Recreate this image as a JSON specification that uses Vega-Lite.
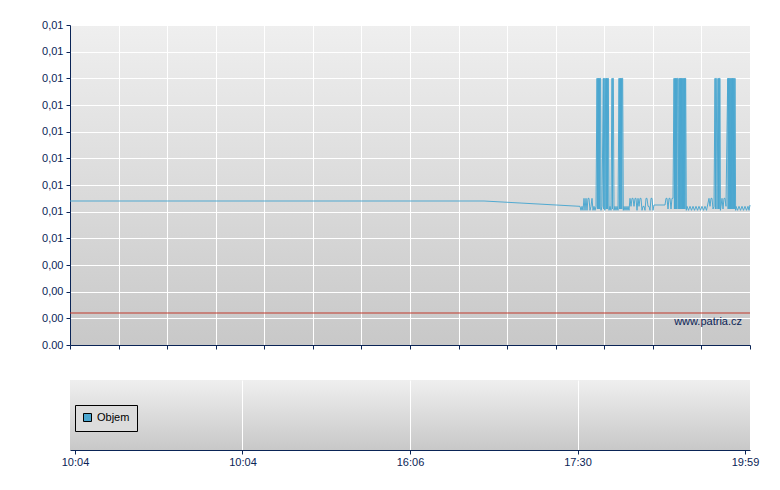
{
  "$schema": "https://vega.github.io/schema/vega-lite/v6.json",
  "padding": {"left": 41, "top": 19, "right": 5, "bottom": 5},
  "background": "white",
  "spacing": 30,
  "config": {
    "font": "Liberation Sans",
    "view": {"stroke": null, "fill": {"gradient": "linear", "x1": 0, "y1": 0, "x2": 0, "y2": 1, "stops": [{"offset": 0, "color": "#efefef"}, {"offset": 1, "color": "#c8c8c8"}]}},
    "axis": {"domainColor": "#0a2456", "tickColor": "#0a2456", "labelColor": "#0a2456", "labelFont": "Liberation Sans", "labelFontSize": 11, "gridColor": "#ffffff", "gridOpacity": 1, "gridWidth": 1, "tickSize": 4, "domainWidth": 1, "title": null, "labelOverlap": false, "labelFlush": false}
  },
  "datasets": {
    "cena": [
      {"p": 0, "v": 5.4}, {"p": 414, "v": 5.4}, {"p": 510, "v": 5.2},
      {"p": 511, "v": 5.05}, {"p": 512, "v": 5.2}, {"p": 513, "v": 5.05},
      {"p": 514, "v": 5.5}, {"p": 515, "v": 5.05}, {"p": 516, "v": 5.5}, {"p": 517, "v": 5.05}, {"p": 518, "v": 5.5}, {"p": 519, "v": 5.5}, {"p": 520, "v": 5.05}, {"p": 521, "v": 5.2}, {"p": 522, "v": 5.5}, {"p": 523, "v": 5.05}, {"p": 524, "v": 5.2}, {"p": 525, "v": 5.05}, {"p": 526, "v": 5.2},
      {"p": 527, "v": 10}, {"p": 527.4, "v": 5.1}, {"p": 527.8, "v": 10}, {"p": 528.2, "v": 5.1}, {"p": 528.6, "v": 10}, {"p": 529, "v": 5.1}, {"p": 529.4, "v": 10}, {"p": 529.8, "v": 5.1}, {"p": 530.2, "v": 10}, {"p": 530.7, "v": 10}, {"p": 531, "v": 5.05}, {"p": 532, "v": 5.2},
      {"p": 533.3, "v": 10}, {"p": 533.7, "v": 5.1}, {"p": 534, "v": 10}, {"p": 534.3, "v": 10}, {"p": 534.8, "v": 5.05},
      {"p": 535.7, "v": 10}, {"p": 536.1, "v": 5.1}, {"p": 536.5, "v": 10}, {"p": 536.9, "v": 5.1}, {"p": 537.3, "v": 10}, {"p": 537.7, "v": 5.1}, {"p": 538, "v": 10}, {"p": 538.3, "v": 10}, {"p": 539, "v": 5.05}, {"p": 540, "v": 5.2}, {"p": 541, "v": 5.05},
      {"p": 542, "v": 10}, {"p": 542.4, "v": 5.1}, {"p": 542.8, "v": 10}, {"p": 543.3, "v": 10}, {"p": 544, "v": 5.05}, {"p": 545, "v": 5.2}, {"p": 546, "v": 5.05}, {"p": 547, "v": 5.2}, {"p": 548, "v": 5.05},
      {"p": 549, "v": 10}, {"p": 549.4, "v": 5.1}, {"p": 549.8, "v": 10}, {"p": 550.2, "v": 5.1}, {"p": 550.6, "v": 10}, {"p": 551, "v": 5.1}, {"p": 551.4, "v": 10}, {"p": 551.8, "v": 5.1}, {"p": 552.2, "v": 10}, {"p": 552.7, "v": 10}, {"p": 553.3, "v": 5.05}, {"p": 554, "v": 5.2}, {"p": 555, "v": 5.05}, {"p": 556, "v": 5.2}, {"p": 557, "v": 5.05}, {"p": 558, "v": 5.2}, {"p": 559, "v": 5.05},
      {"p": 560, "v": 5.5}, {"p": 561, "v": 5.2}, {"p": 562, "v": 5.5}, {"p": 563, "v": 5.5}, {"p": 564, "v": 5.2}, {"p": 565, "v": 5.5}, {"p": 566, "v": 5.5}, {"p": 567, "v": 5.05}, {"p": 568, "v": 5.5}, {"p": 569, "v": 5.2}, {"p": 570, "v": 5.5}, {"p": 571, "v": 5.5}, {"p": 572, "v": 5.05}, {"p": 573, "v": 5.2}, {"p": 574, "v": 5.2}, {"p": 575, "v": 5.05}, {"p": 576, "v": 5.5}, {"p": 577, "v": 5.5}, {"p": 578, "v": 5.2}, {"p": 579, "v": 5.2}, {"p": 580, "v": 5.05}, {"p": 581, "v": 5.5}, {"p": 582, "v": 5.5}, {"p": 583, "v": 5.05}, {"p": 584, "v": 5.25},
      {"p": 595, "v": 5.25},
      {"p": 596, "v": 5.5}, {"p": 597, "v": 5.5}, {"p": 598, "v": 5.1}, {"p": 599, "v": 5.5}, {"p": 600, "v": 5.5}, {"p": 601, "v": 5.1}, {"p": 602, "v": 5.5}, {"p": 603, "v": 5.5},
      {"p": 604, "v": 10}, {"p": 604.4, "v": 5.1}, {"p": 604.8, "v": 10}, {"p": 605.2, "v": 5.1}, {"p": 605.6, "v": 10}, {"p": 606, "v": 5.1}, {"p": 606.4, "v": 10}, {"p": 606.8, "v": 5.1}, {"p": 607.2, "v": 10}, {"p": 607.7, "v": 10}, {"p": 608.3, "v": 5.1},
      {"p": 609, "v": 10}, {"p": 609.4, "v": 5.1}, {"p": 609.8, "v": 10}, {"p": 610.2, "v": 5.1}, {"p": 610.6, "v": 10}, {"p": 611, "v": 5.1}, {"p": 611.4, "v": 10}, {"p": 611.8, "v": 5.1}, {"p": 612.2, "v": 10}, {"p": 612.6, "v": 5.1}, {"p": 613, "v": 10}, {"p": 613.4, "v": 5.1}, {"p": 613.8, "v": 10}, {"p": 614.2, "v": 5.1}, {"p": 614.6, "v": 10}, {"p": 615, "v": 5.1}, {"p": 615.4, "v": 10}, {"p": 615.7, "v": 10}, {"p": 616.3, "v": 5.05},
      {"p": 617, "v": 5.2}, {"p": 618.5, "v": 5.05}, {"p": 620, "v": 5.2}, {"p": 621.5, "v": 5.05}, {"p": 623, "v": 5.2}, {"p": 624.5, "v": 5.05}, {"p": 626, "v": 5.2}, {"p": 627.5, "v": 5.05}, {"p": 629, "v": 5.2}, {"p": 630.5, "v": 5.05}, {"p": 632, "v": 5.2}, {"p": 633.5, "v": 5.05}, {"p": 635, "v": 5.2}, {"p": 636.5, "v": 5.05},
      {"p": 639, "v": 5.5}, {"p": 640, "v": 5.2}, {"p": 641, "v": 5.5}, {"p": 642, "v": 5.5}, {"p": 643, "v": 5.1}, {"p": 644, "v": 5.2},
      {"p": 645, "v": 10}, {"p": 645.4, "v": 5.1}, {"p": 645.8, "v": 10}, {"p": 646.3, "v": 10}, {"p": 647, "v": 5.1},
      {"p": 648, "v": 10}, {"p": 648.4, "v": 5.1}, {"p": 648.8, "v": 10}, {"p": 649.2, "v": 5.1}, {"p": 649.6, "v": 10}, {"p": 650, "v": 10}, {"p": 650.4, "v": 5.05},
      {"p": 651, "v": 5.2}, {"p": 652, "v": 5.5}, {"p": 653, "v": 5.1}, {"p": 654, "v": 5.5}, {"p": 655, "v": 5.5}, {"p": 656, "v": 5.2},
      {"p": 657.7, "v": 10}, {"p": 658.1, "v": 5.1}, {"p": 658.5, "v": 10}, {"p": 658.9, "v": 5.1}, {"p": 659.3, "v": 10}, {"p": 659.7, "v": 5.1}, {"p": 660.1, "v": 10}, {"p": 660.5, "v": 5.1}, {"p": 660.9, "v": 10}, {"p": 661.3, "v": 5.1}, {"p": 661.7, "v": 10}, {"p": 662.1, "v": 5.1}, {"p": 662.5, "v": 10}, {"p": 662.9, "v": 5.1}, {"p": 663.3, "v": 10}, {"p": 663.7, "v": 5.1}, {"p": 664.1, "v": 10}, {"p": 664.5, "v": 5.1}, {"p": 665, "v": 10}, {"p": 665.6, "v": 5.05},
      {"p": 666, "v": 5.2}, {"p": 667.5, "v": 5.05}, {"p": 669, "v": 5.2}, {"p": 670.5, "v": 5.05}, {"p": 672, "v": 5.2}, {"p": 673.5, "v": 5.05}, {"p": 675, "v": 5.2}, {"p": 676.5, "v": 5.05}, {"p": 678, "v": 5.2}, {"p": 679, "v": 5.05}, {"p": 680, "v": 5.25}
    ],
    "ref": [{"v": 1.2}],
    "mark": [{"p": 672, "v": 0.85, "t": "www.patria.cz"}],
    "objem": [{"p": 0, "objem": 0}, {"p": 170, "objem": 0}, {"p": 340, "objem": 0}, {"p": 510, "objem": 0}, {"p": 680, "objem": 0}]
  },
  "vconcat": [
    {
      "width": 680,
      "height": 320,
      "encoding": {
        "x": {"field": "p", "type": "quantitative", "scale": {"domain": [0, 680], "nice": false, "zero": false},
              "axis": {"labels": false, "grid": true, "values": [0, 48.571, 97.143, 145.714, 194.286, 242.857, 291.429, 340, 388.571, 437.143, 485.714, 534.286, 582.857, 631.429, 680]}},
        "y": {"field": "v", "type": "quantitative", "scale": {"domain": [0, 12], "nice": false},
              "axis": {"grid": true, "values": [0, 1, 2, 3, 4, 5, 6, 7, 8, 9, 10, 11, 12], "labelPadding": 3,
                       "labelExpr": "datum.value > 3.5 ? '0,01' : (datum.value < 0.5 ? '0.00' : '0,00')"}}
      },
      "layer": [
        {"data": {"name": "cena"}, "mark": {"type": "line", "color": "#4aa6d0", "strokeWidth": 1, "opacity": 0.95}},
        {"data": {"name": "ref"}, "mark": {"type": "rule", "color": "#c0392b", "strokeWidth": 1}, "encoding": {"x": null}},
        {"data": {"name": "mark"}, "mark": {"type": "text", "align": "right", "baseline": "middle", "font": "Liberation Sans", "fontSize": 11, "color": "#0a2456"},
         "encoding": {"text": {"field": "t"}}}
      ]
    },
    {
      "width": 680,
      "height": 70,
      "data": {"name": "objem"},
      "mark": {"type": "bar", "size": 2},
      "encoding": {
        "x": {"field": "p", "type": "quantitative", "scale": {"domain": [0, 680], "nice": false, "zero": false},
              "axis": {"grid": true, "values": [0, 170, 340, 510, 680], "labelPadding": 2, "labelFlush": false, "labelAlign": "center",
                       "gridOpacity": {"condition": {"test": "datum.value == 0 || datum.value == 680", "value": 0}, "value": 1},
                       "labelExpr": "datum.value == 0 ? '10:04' : datum.value == 170 ? '10:04' : datum.value == 340 ? '16:06' : datum.value == 510 ? '17:30' : '19:59'"}},
        "y": {"field": "objem", "type": "quantitative", "scale": {"domain": [0, 1]}, "axis": null},
        "color": {"datum": "Objem", "type": "nominal", "scale": {"range": ["#4aa6d0"]},
                  "legend": {"title": null, "orient": "none", "legendX": 5, "legendY": 25, "padding": 7, "strokeColor": "#000000", "fillColor": "#dcdcdc",
                             "symbolType": "square", "symbolSize": 64, "symbolStrokeColor": "#000000", "symbolStrokeWidth": 1, "symbolOpacity": 1,
                             "labelFont": "Liberation Sans", "labelFontSize": 11, "labelColor": "#000000", "labelOffset": 4}}
      }
    }
  ],
  "resolve": {"scale": {"x": "independent", "y": "independent"}, "axis": {"x": "independent", "y": "independent"}, "legend": {"color": "independent"}}
}
